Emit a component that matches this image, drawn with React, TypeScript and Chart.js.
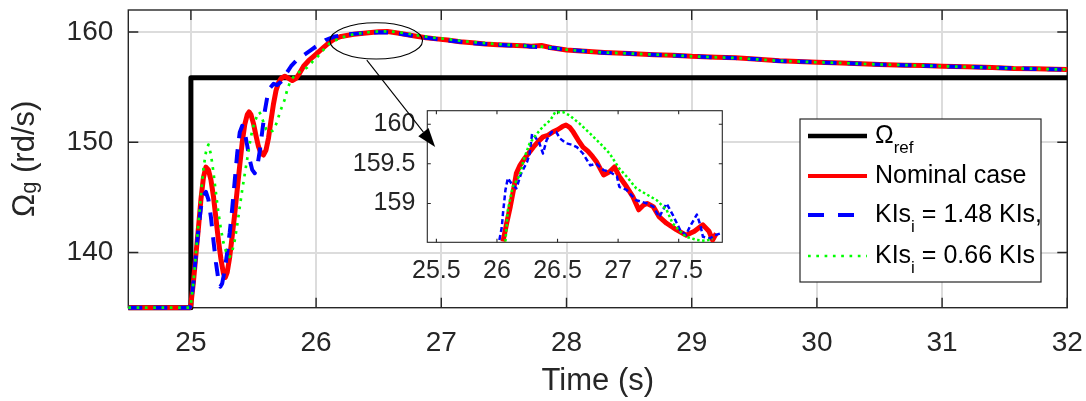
import React, { useEffect, useRef } from "react";
import { Chart, registerables } from "chart.js";

Chart.register(...registerables);

type P = [number, number];

const FONT = '"Liberation Sans", Arial, Helvetica, sans-serif';
const AXIS_COLOR = "#262626";

// ---------- tick values ----------
const xTickValues = [25, 26, 27, 28, 29, 30, 31, 32];
const yTickValues = [140, 150, 160];
const insetXTickValues = [25.5, 26, 26.5, 27, 27.5];
const insetYTickValues = [159, 159.5, 160];

// ---------- main series (time s, speed rd/s) ----------
const omegaRef: P[] = [[24.5, 135], [25.0, 135], [25.0, 155.85], [32, 155.85]];

const nominalCase: P[] = [
  [24.5, 135], [24.8, 135], [24.99, 135], [25.0, 135.3], [25.02, 137.3], [25.04, 139.8], [25.06, 142.2],
  [25.08, 144.8], [25.1, 146.8], [25.12, 147.75], [25.14, 147.5], [25.16, 146.6], [25.18, 145.1], [25.2, 143.1],
  [25.22, 141.1], [25.24, 139.4], [25.26, 138.1], [25.275, 137.75], [25.29, 138.2], [25.31, 139.6], [25.33, 141.5],
  [25.35, 143.5], [25.37, 145.7], [25.39, 147.9], [25.41, 150], [25.43, 151.6], [25.45, 152.5], [25.465, 152.75],
  [25.48, 152.5], [25.5, 151.7], [25.52, 150.6], [25.54, 149.6], [25.56, 149.0], [25.58, 148.85], [25.6, 149.3],
  [25.62, 150.4], [25.64, 152.0], [25.66, 153.5], [25.68, 154.7], [25.7, 155.4], [25.72, 155.8], [25.75, 156.0],
  [25.78, 155.8], [25.81, 155.6], [25.84, 155.8], [25.87, 156.3], [25.9, 156.9], [25.94, 157.4], [25.98, 157.8],
  [26.02, 158.2], [26.06, 158.6], [26.1, 159.0], [26.15, 159.4], [26.2, 159.6], [26.3, 159.8], [26.4, 159.92],
  [26.5, 160.02], [26.57, 160.05], [26.65, 159.92], [26.72, 159.78], [26.8, 159.62], [26.88, 159.48], [26.96, 159.38],
  [27.05, 159.28], [27.15, 159.12], [27.25, 159.02], [27.35, 158.92], [27.45, 158.85], [27.55, 158.8], [27.65, 158.76],
  [27.72, 158.72], [27.8, 158.78], [27.88, 158.58], [28.0, 158.38], [28.15, 158.25], [28.3, 158.15], [28.5, 158.05],
  [28.7, 157.95], [28.85, 157.9], [29.0, 157.8], [29.2, 157.72], [29.35, 157.66], [29.5, 157.55], [29.7, 157.4],
  [29.85, 157.33], [30.0, 157.27], [30.2, 157.2], [30.35, 157.12], [30.5, 157.06], [30.7, 157.0], [30.85, 156.96],
  [31.0, 156.9], [31.2, 156.85], [31.4, 156.78], [31.57, 156.7], [31.75, 156.68], [31.9, 156.63], [32.0, 156.6],
];

const kisHigh: P[] = [
  [24.5, 135], [24.8, 135], [24.99, 135], [25.0, 135.3], [25.02, 137.3], [25.04, 139.8], [25.06, 142.1],
  [25.08, 144.1], [25.1, 145.2], [25.12, 145.5], [25.14, 144.8], [25.16, 143.2], [25.18, 141.1], [25.2, 139.1],
  [25.22, 137.5], [25.235, 136.9], [25.25, 137.2], [25.27, 138.4], [25.29, 140], [25.31, 141.8], [25.33, 144],
  [25.35, 146.5], [25.37, 149], [25.39, 150.9], [25.41, 151.5], [25.43, 150.9], [25.45, 149.7], [25.47, 148.4],
  [25.49, 147.5], [25.51, 147.2], [25.53, 147.8], [25.55, 149.2], [25.57, 151], [25.59, 152.8], [25.61, 154.1],
  [25.63, 154.9], [25.66, 155.3], [25.69, 155.2], [25.72, 155.5], [25.76, 156.2], [25.8, 156.9], [25.85, 157.5],
  [25.9, 157.9], [25.95, 158.3], [26.0, 158.7], [26.08, 159.3], [26.15, 159.6], [26.25, 159.8], [26.35, 159.88],
  [26.45, 159.95], [26.55, 159.98], [26.65, 159.88], [26.72, 159.75], [26.8, 159.6], [26.88, 159.48], [26.96, 159.36],
  [27.05, 159.25], [27.15, 159.12], [27.25, 159.0], [27.35, 158.92], [27.45, 158.86], [27.55, 158.78], [27.62, 158.85],
  [27.7, 158.7], [27.8, 158.62], [27.9, 158.55], [28.0, 158.38], [28.15, 158.27], [28.3, 158.13], [28.5, 158.05],
  [28.7, 157.94], [28.85, 157.88], [29.0, 157.8], [29.2, 157.7], [29.35, 157.64], [29.5, 157.55], [29.7, 157.38],
  [29.85, 157.32], [30.0, 157.26], [30.2, 157.18], [30.35, 157.13], [30.5, 157.05], [30.7, 157.0], [30.85, 156.95],
  [31.0, 156.9], [31.2, 156.83], [31.4, 156.78], [31.57, 156.72], [31.75, 156.66], [31.9, 156.62], [32.0, 156.6],
];

const kisLow: P[] = [
  [24.5, 135], [24.8, 135], [24.99, 135], [25.0, 135.3], [25.02, 137.3], [25.04, 139.9], [25.06, 142.6],
  [25.08, 145.2], [25.1, 147.6], [25.12, 149.1], [25.14, 149.8], [25.16, 148.9], [25.18, 147.3], [25.2, 145.4],
  [25.22, 143.6], [25.24, 142.1], [25.26, 140.9], [25.28, 140.1], [25.31, 139.6], [25.33, 140.1], [25.35, 141.1],
  [25.37, 142.5], [25.39, 144.1], [25.41, 145.7], [25.43, 147.1], [25.45, 148.5], [25.47, 149.9], [25.49, 151.1],
  [25.51, 151.85], [25.53, 152.45], [25.545, 152.75], [25.56, 152.5], [25.58, 151.8], [25.6, 151.2], [25.63, 150.9],
  [25.66, 151.1], [25.69, 151.9], [25.71, 152.7], [25.73, 153.3], [25.75, 153.9], [25.77, 154.8], [25.79, 155.4],
  [25.81, 155.8], [25.85, 156.3], [25.89, 156.5], [25.93, 156.8], [25.97, 157.3], [26.0, 157.6], [26.03, 158.0],
  [26.06, 158.4], [26.11, 159.0], [26.2, 159.5], [26.3, 159.8], [26.4, 159.96], [26.5, 160.06], [26.6, 160.05],
  [26.7, 159.92], [26.8, 159.72], [26.9, 159.55], [27.0, 159.42], [27.1, 159.28], [27.2, 159.15], [27.3, 159.05],
  [27.4, 158.95], [27.5, 158.86], [27.6, 158.8], [27.7, 158.74], [27.8, 158.68], [27.9, 158.56], [28.0, 158.4],
  [28.15, 158.26], [28.3, 158.14], [28.5, 158.06], [28.7, 157.96], [28.85, 157.89], [29.0, 157.8], [29.2, 157.71],
  [29.35, 157.65], [29.5, 157.54], [29.7, 157.39], [29.85, 157.33], [30.0, 157.26], [30.2, 157.19], [30.35, 157.12],
  [30.5, 157.06], [30.7, 157.01], [30.85, 156.95], [31.0, 156.9], [31.2, 156.84], [31.4, 156.77], [31.57, 156.71],
  [31.75, 156.67], [31.9, 156.62], [32.0, 156.6],
];

// ---------- inset series (zoom of 25.4 .. 27.9 s) ----------
const insetNominal: P[] = [
  [26.05, 158.52], [26.08, 158.75], [26.11, 158.96], [26.14, 159.2], [26.16, 159.38], [26.19, 159.48], [26.22, 159.55],
  [26.26, 159.63], [26.3, 159.71], [26.34, 159.78], [26.38, 159.84], [26.42, 159.86], [26.46, 159.9], [26.5, 159.93],
  [26.54, 159.97], [26.57, 159.99], [26.6, 159.96], [26.63, 159.9], [26.67, 159.8], [26.71, 159.71], [26.75, 159.66],
  [26.79, 159.59], [26.82, 159.53], [26.88, 159.36], [26.93, 159.4], [26.97, 159.46], [27.01, 159.34], [27.07, 159.21],
  [27.12, 159.09], [27.17, 158.92], [27.21, 158.98], [27.24, 159.0], [27.29, 158.96], [27.34, 158.83], [27.4, 158.75],
  [27.48, 158.67], [27.56, 158.6], [27.63, 158.65], [27.7, 158.73], [27.75, 158.65], [27.78, 158.54], [27.81, 158.62],
];

const insetKisHigh: P[] = [
  [26.02, 158.54], [26.04, 158.7], [26.05, 158.88], [26.07, 159.17], [26.09, 159.32], [26.12, 159.25], [26.16, 159.19],
  [26.2, 159.38], [26.25, 159.53], [26.27, 159.63], [26.29, 159.88], [26.31, 159.85], [26.35, 159.76], [26.38, 159.63],
  [26.41, 159.8], [26.45, 159.9], [26.49, 159.9], [26.52, 159.82], [26.57, 159.76], [26.62, 159.74], [26.66, 159.71],
  [26.71, 159.63], [26.77, 159.48], [26.82, 159.5], [26.88, 159.42], [26.93, 159.4], [26.99, 159.34], [27.01, 159.21],
  [27.07, 159.17], [27.15, 159.04], [27.24, 159.0], [27.29, 158.96], [27.34, 158.83], [27.4, 159.0], [27.45, 158.86],
  [27.51, 158.67], [27.56, 158.6], [27.59, 158.7], [27.65, 158.86], [27.68, 158.72], [27.7, 158.58], [27.76, 158.56],
  [27.8, 158.6], [27.84, 158.62],
];

const insetKisLow: P[] = [
  [26.07, 158.52], [26.09, 158.92], [26.13, 159.21], [26.19, 159.36], [26.22, 159.55], [26.27, 159.76], [26.33, 159.88],
  [26.38, 159.97], [26.44, 160.05], [26.48, 160.15], [26.55, 160.15], [26.6, 160.11], [26.68, 160.01], [26.77, 159.88],
  [26.85, 159.76], [26.93, 159.63], [27.01, 159.44], [27.07, 159.34], [27.15, 159.19], [27.24, 159.11], [27.32, 159.04],
  [27.4, 158.92], [27.45, 158.75], [27.51, 158.65], [27.56, 158.58], [27.65, 158.54], [27.72, 158.53], [27.78, 158.55],
];

// ---------- text ----------
type Part = { t: string; sub?: boolean };
const legendLabels: Part[][] = [
  [{ t: "Ω" }, { t: "ref", sub: true }],
  [{ t: "Nominal case" }],
  [{ t: "KIs" }, { t: "i", sub: true }, { t: " = 1.48 KIs," }],
  [{ t: "KIs" }, { t: "i", sub: true }, { t: " = 0.66 KIs" }],
];
const yTitle: Part[] = [{ t: "Ω" }, { t: "g", sub: true }, { t: " (rd/s)" }];
const xTitle = "Time (s)";

// ---------- annotation (data coordinates of the main axes) ----------
const zoomEllipse = { t: 26.48, v: 159.2, rt: 0.37, rv: 1.65 };
const zoomArrow = { from: [26.405, 157.45], to: [26.951, 149.57] };

const toXY = (a: P[]) => a.map(([x, y]) => ({ x, y }));

function drawRich(ctx: CanvasRenderingContext2D, parts: Part[], x: number, y: number, size: number, subSize: number, subShift: number, center: boolean) {
  ctx.textBaseline = "middle";
  ctx.textAlign = "left";
  const widths = parts.map((p) => {
    ctx.font = `${p.sub ? subSize : size}px ${FONT}`;
    return ctx.measureText(p.t).width;
  });
  const total = widths.reduce((a, b) => a + b, 0);
  let cx = center ? x - total / 2 : x;
  parts.forEach((p, i) => {
    ctx.font = `${p.sub ? subSize : size}px ${FONT}`;
    ctx.fillText(p.t, cx, p.sub ? y + subShift : y);
    cx += widths[i];
  });
}

const framePlugin = (tickLen: number, lw: number) => ({
  id: "frameTicks",
  beforeDatasetsDraw(chart: any) {
    const { ctx, chartArea: a, scales } = chart;
    ctx.save();
    ctx.strokeStyle = AXIS_COLOR;
    ctx.lineWidth = lw;
    ctx.setLineDash([]);
    ctx.strokeRect(a.left, a.top, a.right - a.left, a.bottom - a.top);
    ctx.beginPath();
    scales.x.ticks.forEach((t: any) => {
      const px = scales.x.getPixelForValue(t.value);
      ctx.moveTo(px, a.bottom);
      ctx.lineTo(px, a.bottom - tickLen);
      ctx.moveTo(px, a.top);
      ctx.lineTo(px, a.top + tickLen);
    });
    scales.y.ticks.forEach((t: any) => {
      const py = scales.y.getPixelForValue(t.value);
      ctx.moveTo(a.left, py);
      ctx.lineTo(a.left + tickLen, py);
      ctx.moveTo(a.right, py);
      ctx.lineTo(a.right - tickLen, py);
    });
    ctx.stroke();
    ctx.restore();
  },
});

const LEG = { x: 800, y: 119, w: 241, h: 163, x1: 808, x2: 867, textX: 875, rows: [136, 176, 215, 256] };
const legendWidths = [4.5, 4, 4, 2.7];
const legendDashes = [[], [], [16, 14], [2.7, 5.6]];

const legendPlugin = {
  id: "richLegend",
  afterDraw(chart: any) {
    const ctx = chart.ctx as CanvasRenderingContext2D;
    ctx.save();
    ctx.fillStyle = "#ffffff";
    ctx.fillRect(LEG.x, LEG.y, LEG.w, LEG.h);
    ctx.strokeStyle = AXIS_COLOR;
    ctx.lineWidth = 1.2;
    ctx.strokeRect(LEG.x, LEG.y, LEG.w, LEG.h);
    chart.data.datasets.forEach((ds: any, i: number) => {
      const y = LEG.rows[i];
      ctx.beginPath();
      ctx.strokeStyle = ds.borderColor;
      ctx.lineWidth = legendWidths[i];
      ctx.lineCap = "butt";
      ctx.setLineDash(legendDashes[i]);
      ctx.moveTo(LEG.x1, y);
      ctx.lineTo(LEG.x2, y);
      ctx.stroke();
      ctx.setLineDash([]);
      ctx.fillStyle = "#000000";
      drawRich(ctx, legendLabels[i], LEG.textX, y, 25, 17, 12, false);
    });
    ctx.restore();
  },
};

const yTitlePlugin = {
  id: "yTitle",
  afterDraw(chart: any) {
    const { ctx, chartArea: a } = chart;
    ctx.save();
    ctx.translate(25, (a.top + a.bottom) / 2);
    ctx.rotate(-Math.PI / 2);
    ctx.fillStyle = AXIS_COLOR;
    drawRich(ctx, yTitle, 0, 0, 31, 22, 5, true);
    ctx.restore();
  },
};

const whiteAreaPlugin = {
  id: "whiteArea",
  beforeDraw(chart: any) {
    const { ctx, chartArea: a } = chart;
    ctx.save();
    ctx.fillStyle = "#ffffff";
    ctx.fillRect(a.left, a.top, a.right - a.left, a.bottom - a.top);
    ctx.restore();
  },
};

const tickFont = (size: number) => ({ family: FONT, size });
const noPad = (s: any) => { s.paddingTop = 0; s.paddingBottom = 0; s.paddingLeft = 0; s.paddingRight = 0; };

export default function App() {
  const mainRef = useRef<HTMLCanvasElement>(null);
  const insetRef = useRef<HTMLCanvasElement>(null);
  const overlayRef = useRef<HTMLCanvasElement>(null);

  useEffect(() => {
    const main = new Chart(mainRef.current as HTMLCanvasElement, {
      type: "line",
      data: {
        datasets: [
          { label: "ref", data: toXY(omegaRef), borderColor: "#000000", borderWidth: 5, clip: 3, order: 4 } as any,
          { label: "nominal", data: toXY(nominalCase), borderColor: "#ff0000", borderWidth: 5, clip: 3, order: 3 } as any,
          { label: "high", data: toXY(kisHigh), borderColor: "#0000ff", borderWidth: 4, borderDash: [14, 11], clip: 3, order: 2 } as any,
          { label: "low", data: toXY(kisLow), borderColor: "#00ff00", borderWidth: 2.7, borderDash: [2.7, 5.6], clip: 3, order: 1 } as any,
        ],
      },
      options: {
        animation: false,
        responsive: false,
        events: [],
        layout: { padding: { left: 0, right: 18.7, top: 10, bottom: 0 } },
        elements: { point: { radius: 0 }, line: { tension: 0, borderCapStyle: "butt", borderJoinStyle: "round" } },
        plugins: { legend: { display: false }, tooltip: { enabled: false } },
        scales: {
          x: {
            type: "linear",
            min: 24.5,
            max: 32,
            afterBuildTicks: (s: any) => { s.ticks = xTickValues.map((value) => ({ value })); },
            afterFit: (s: any) => { s.height = 93.3; noPad(s); },
            ticks: { font: tickFont(28), color: AXIS_COLOR, padding: 19, maxRotation: 0, minRotation: 0, autoSkip: false, callback: (v: any) => String(v) },
            grid: { color: "#dcdcdc", lineWidth: 2, drawTicks: false },
            border: { display: false },
            title: { display: true, text: xTitle, font: { family: FONT, size: 31 }, color: AXIS_COLOR, padding: { top: 0, bottom: 1 } },
          },
          y: {
            type: "linear",
            min: 135,
            max: 162,
            afterBuildTicks: (s: any) => { s.ticks = yTickValues.map((value) => ({ value })); },
            afterFit: (s: any) => { s.width = 128.3; noPad(s); },
            ticks: { font: tickFont(28), color: AXIS_COLOR, padding: 15, autoSkip: false, callback: (v: any) => String(v) },
            grid: { color: "#dcdcdc", lineWidth: 2, drawTicks: false },
            border: { display: false },
          },
        },
      } as any,
      plugins: [framePlugin(10, 1.4), yTitlePlugin, legendPlugin],
    });

    const inset = new Chart(insetRef.current as HTMLCanvasElement, {
      type: "line",
      data: {
        datasets: [
          { label: "nominal", data: toXY(insetNominal), borderColor: "#ff0000", borderWidth: 5, order: 3 } as any,
          { label: "high", data: toXY(insetKisHigh), borderColor: "#0000ff", borderWidth: 2.5, borderDash: [5, 3], order: 2 } as any,
          { label: "low", data: toXY(insetKisLow), borderColor: "#00ff00", borderWidth: 2.5, borderDash: [2.5, 2.5], order: 1 } as any,
        ],
      },
      options: {
        animation: false,
        responsive: false,
        events: [],
        layout: { padding: { left: 0, right: 17.7, top: 10.7, bottom: 0 } },
        elements: { point: { radius: 0 }, line: { tension: 0, borderCapStyle: "butt", borderJoinStyle: "round" } },
        plugins: { legend: { display: false }, tooltip: { enabled: false } },
        scales: {
          x: {
            type: "linear",
            min: 25.425,
            max: 27.86,
            afterBuildTicks: (s: any) => { s.ticks = insetXTickValues.map((value) => ({ value })); },
            afterFit: (s: any) => { s.height = 47.7; noPad(s); },
            ticks: { font: tickFont(25), color: AXIS_COLOR, padding: 14, maxRotation: 0, minRotation: 0, autoSkip: false, callback: (v: any) => String(v) },
            grid: { display: false, drawTicks: false },
            border: { display: false },
          },
          y: {
            type: "linear",
            min: 158.51,
            max: 160.17,
            afterBuildTicks: (s: any) => { s.ticks = insetYTickValues.map((value) => ({ value })); },
            afterFit: (s: any) => { s.width = 97.3; noPad(s); },
            ticks: { font: tickFont(25), color: AXIS_COLOR, padding: 12, autoSkip: false, callback: (v: any) => String(v) },
            grid: { display: false, drawTicks: false },
            border: { display: false },
          },
        },
      } as any,
      plugins: [whiteAreaPlugin, framePlugin(3.5, 1.1)],
    });

    // ellipse + arrow pointing to the zoomed region, placed with the main axes' scales
    const oc = overlayRef.current as HTMLCanvasElement;
    const ctx = oc.getContext("2d") as CanvasRenderingContext2D;
    ctx.clearRect(0, 0, oc.width, oc.height);
    const xs: any = main.scales.x;
    const ys: any = main.scales.y;
    const cx = xs.getPixelForValue(zoomEllipse.t);
    const cy = ys.getPixelForValue(zoomEllipse.v);
    const rx = Math.abs(xs.getPixelForValue(zoomEllipse.t + zoomEllipse.rt) - cx);
    const ry = Math.abs(ys.getPixelForValue(zoomEllipse.v + zoomEllipse.rv) - cy);
    ctx.save();
    ctx.strokeStyle = "#000000";
    ctx.lineWidth = 1.1;
    ctx.beginPath();
    ctx.ellipse(cx, cy, rx, ry, 0, 0, Math.PI * 2);
    ctx.stroke();
    const x0 = xs.getPixelForValue(zoomArrow.from[0]);
    const y0 = ys.getPixelForValue(zoomArrow.from[1]);
    const x1 = xs.getPixelForValue(zoomArrow.to[0]);
    const y1 = ys.getPixelForValue(zoomArrow.to[1]);
    const ang = Math.atan2(y1 - y0, x1 - x0);
    const headLen = 19;
    const headHalf = 6.5;
    const bx = x1 - headLen * Math.cos(ang);
    const by = y1 - headLen * Math.sin(ang);
    ctx.beginPath();
    ctx.moveTo(x0, y0);
    ctx.lineTo(bx, by);
    ctx.stroke();
    ctx.fillStyle = "#000000";
    ctx.beginPath();
    ctx.moveTo(x1, y1);
    ctx.lineTo(bx + headHalf * Math.sin(ang), by - headHalf * Math.cos(ang));
    ctx.lineTo(bx - headHalf * Math.sin(ang), by + headHalf * Math.cos(ang));
    ctx.closePath();
    ctx.fill();
    ctx.restore();

    return () => {
      main.destroy();
      inset.destroy();
    };
  }, []);

  return (
    <div style={{ position: "absolute", left: 0, top: 0, width: 1086, height: 401, background: "#ffffff", overflow: "hidden" }}>
      <canvas ref={mainRef} width={1086} height={401} style={{ position: "absolute", left: 0, top: 0 }} />
      <canvas ref={insetRef} width={410} height={190} style={{ position: "absolute", left: 330, top: 100 }} />
      <canvas ref={overlayRef} width={1086} height={401} style={{ position: "absolute", left: 0, top: 0, pointerEvents: "none" }} />
    </div>
  );
}
